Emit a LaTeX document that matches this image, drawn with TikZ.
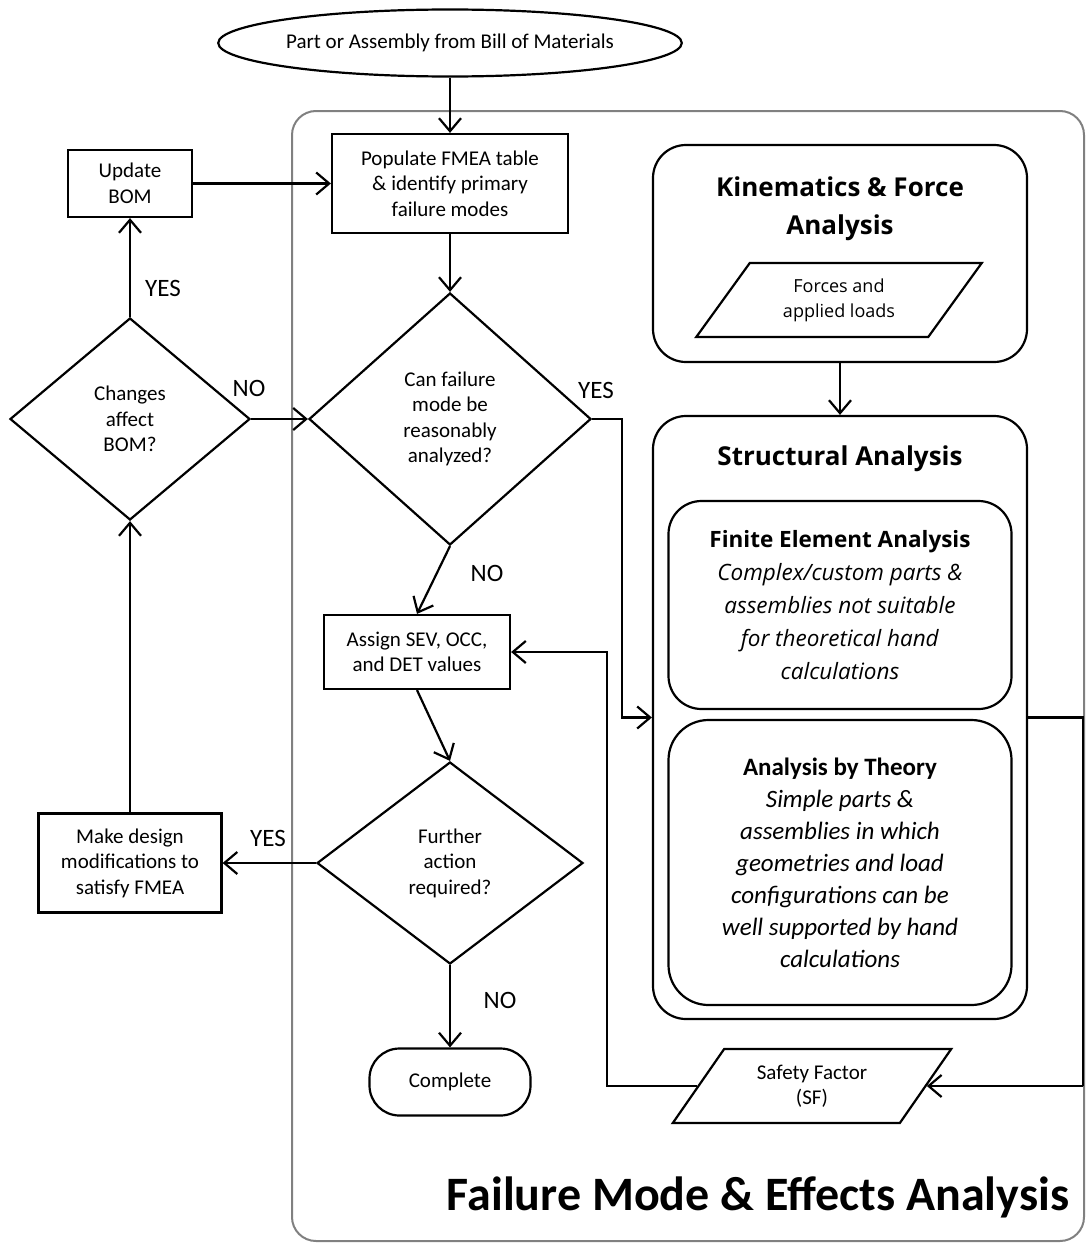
\documentclass[tikz,border=0pt]{standalone}
\usepackage{fontspec}
\setmainfont{Carlito}
\newfontfamily\opensans{Open Sans}
\usetikzlibrary{arrows.meta,shapes.geometric}

\begin{document}
\begin{tikzpicture}[x=1pt, y=-1pt, line width=2.2pt,
        arr/.style={-{Straight Barb[length=13pt,width=22pt]}},
        txt/.style={font=\fontsize{21}{25.5}\selectfont, align=center},
        box/.style={draw, rectangle, inner sep=0pt, txt},
        decision/.style={draw, diamond, inner sep=0pt, txt},
        rbox/.style={draw, rectangle, rounded corners=33pt, inner sep=0pt},
        io/.style={draw, trapezium, trapezium stretches, inner sep=0pt},
        answer/.style={font=\fontsize{25}{30}\selectfont}]
        \useasboundingbox (0,0) rectangle (1086,1247);
        \draw[gray, line width=2pt, rounded corners=24pt] (292,111) rectangle (1084,1241);
        \node[font=\fontsize{48}{52}\selectfont\bfseries] (fmeatitle) at (758,1197) {Failure Mode \& Effects Analysis};

        \node[draw, ellipse, minimum width=433pt, minimum height=67pt, inner sep=0pt, txt] (bom) at (450,43) {Part or Assembly from Bill of Materials};
        \node[box, minimum width=236pt, minimum height=99pt] (populate) at (450,183.5) {Populate FMEA table\\\& identify primary\\failure modes};
        \node[box, minimum width=124pt, minimum height=67pt] (update) at (130,183.5) {Update\\BOM};
        \node[decision, minimum width=282pt, minimum height=252pt] (analyzable) at (450,419) {Can failure\\mode be\\reasonably\\analyzed?};
        \node[decision, minimum width=240pt, minimum height=202pt] (bomchange) at (130,419) {Changes\\affect\\BOM?};
        \node[box, minimum width=186pt, minimum height=74pt] (assign) at (417,652) {Assign SEV, OCC,\\and DET values};
        \node[decision, minimum width=266pt, minimum height=202pt] (further) at (450,863) {Further\\action\\required?};
        \node[box, minimum width=183pt, minimum height=99pt] (modify) at (130,863) {Make design\\modifications to\\satisfy FMEA};
        \node[draw, rounded corners=30pt, minimum width=161pt, minimum height=67pt, inner sep=0pt, txt] (complete) at (450,1082) {Complete};

        \node[rbox, minimum width=374pt, minimum height=217pt] (kinematics) at (840,253.5) {};
        \node[font=\opensans\bfseries\fontsize{26}{38}\selectfont, align=center] (kintitle) at (840,209) {Kinematics \& Force\\Analysis};
        \node[io, trapezium left angle=52, trapezium right angle=128, minimum width=286pt, minimum height=74pt, font=\opensans\fontsize{18}{25}\selectfont, align=center] (forces) at (839,300) {Forces and\\applied loads};

        \node[rbox, minimum width=374pt, minimum height=603pt] (structural) at (840,717.5) {};
        \node[font=\opensans\bfseries\fontsize{26}{30}\selectfont] (structitle) at (840,459) {Structural Analysis};
        \node[rbox, minimum width=343pt, minimum height=208pt, align=center, font=\opensans\fontsize{22.5}{33}\selectfont] (fea) at (840,605) {\textbf{Finite Element Analysis}\\\textit{Complex/custom parts \&}\\\textit{assemblies not suitable}\\\textit{for theoretical hand}\\\textit{calculations}};
        \node[rbox, rounded corners=40pt, minimum width=343pt, minimum height=285pt, align=center, font=\fontsize{25}{32}\selectfont] (theory) at (840,862.5) {\textbf{Analysis by Theory}\\\textit{Simple parts \&}\\\textit{assemblies in which}\\\textit{geometries and load}\\\textit{configurations can be}\\\textit{well supported by hand}\\\textit{calculations}};
        \node[io, trapezium left angle=53, trapezium right angle=127, minimum width=279pt, minimum height=74pt, txt] (safety) at (812,1086) {Safety Factor\\(SF)};

        \coordinate (ybend) at (622,717.5);
        \coordinate (rbend) at (1083,1086);
        \coordinate (lbend) at (607,652);

        \draw[arr] (bom) -- (populate);
        \draw[arr] (update) -- (populate);
        \draw[arr] (populate) -- (analyzable);
        \draw[arr] (bomchange) -- (analyzable);
        \draw[arr] (bomchange) -- (update);
        \draw[arr] (analyzable.east) -| (ybend) |- (structural.west);
        \draw[arr] (analyzable.south) -- (assign.north);
        \draw[arr] (assign.south) -- (further.north);
        \draw[arr] (further) -- (modify);
        \draw[arr] (modify) -- (bomchange);
        \draw[arr] (further) -- (complete);
        \draw[arr] (kinematics) -- (structural);
        \draw[arr] (structural.east) -| (rbend) |- (safety.east);
        \draw[arr] (safety.west) -| (lbend) |- (assign.east);

        \node[answer] (yesupdate) at (163,288) {YES};
        \node[answer] (nochange) at (249,388) {NO};
        \node[answer] (yesanalyze) at (596,390) {YES};
        \node[answer] (noanalyze) at (487,573) {NO};
        \node[answer] (yesfurther) at (268,838) {YES};
        \node[answer] (nofurther) at (500,1000) {NO};
    \end{tikzpicture}
\end{document}
